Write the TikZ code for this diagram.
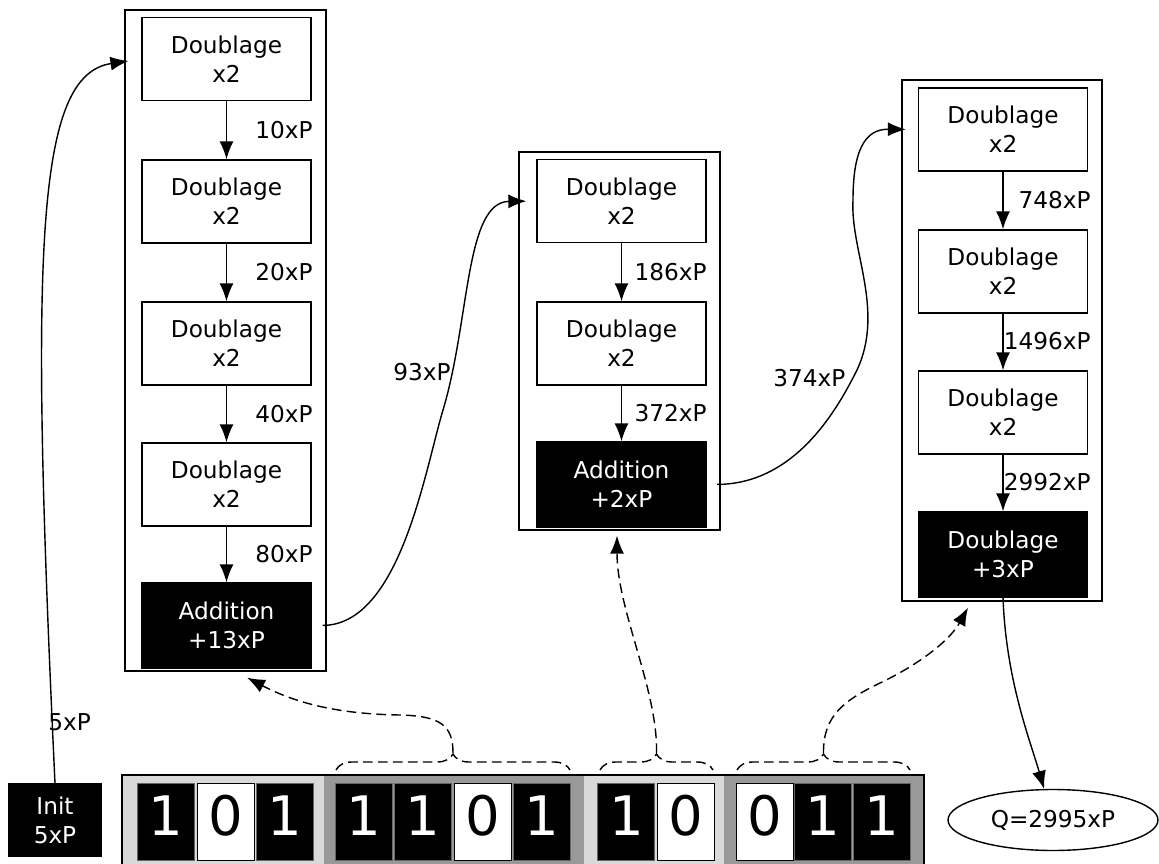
\documentclass[tikz,border=0pt]{standalone}
\usepackage{fontspec}
\setmainfont{DejaVu Sans}
\usepackage{tikz}
\usetikzlibrary{arrows.meta,shapes.geometric,decorations.pathreplacing}
\definecolor{grisclair}{HTML}{D9D9D9}
\definecolor{grisfonce}{HTML}{999999}
\newcommand{\etiq}{\fontsize{13.2}{16.5}\selectfont}
\newcommand{\gros}{\fontsize{31}{31}\selectfont}
\tikzset{
  dbl/.style={rectangle, draw, line width=0.8pt, fill=white, align=center, font=\etiq,
              minimum width=3.38cm, minimum height=1.66cm, inner sep=0pt},
  ajout/.style={dbl, fill=black, text=white, minimum height=1.7cm},
  colonne/.style={rectangle, draw, line width=0.8pt, inner sep=0pt},
  valeur/.style={font=\etiq, inner sep=0pt},
  bitun/.style={rectangle, draw=black!60, line width=0.5pt, fill=black, text=white, font=\gros,
                minimum width=1.14cm, minimum height=1.54cm, inner sep=0pt, text depth=0.24cm},
  bitzero/.style={bitun, draw=black, fill=white, text=black},
  arr/.style={-{Latex[length=3.6mm,width=2.8mm]}, line width=0.8pt},
  darr/.style={arr, dash pattern=on 5.5pt off 3pt},
  accol/.style={decorate, decoration={brace,amplitude=0.32cm}, line width=0.8pt,
                dash pattern=on 5.5pt off 3pt},
}

\begin{document}
\begin{tikzpicture}[x=0.02cm, y=-0.02cm]
    \useasboundingbox (0,0) rectangle (1159,864);
    % les trois colonnes
    \node[colonne, minimum width=4.02cm, minimum height=13.22cm] (col1) at (225.5,340.5) {};
    \node[colonne, minimum width=4.02cm, minimum height=7.56cm]  (col2) at (619.5,341) {};
    \node[colonne, minimum width=4cm, minimum height=10.42cm]    (col3) at (1002,340.5) {};
    % colonne 1
    \node[dbl]   (d11) at (226.5,59)    {Doublage\\x2};
    \node[dbl]   (d12) at (226.5,201.5) {Doublage\\x2};
    \node[dbl]   (d13) at (226.5,343.5) {Doublage\\x2};
    \node[dbl]   (d14) at (226.5,484.5) {Doublage\\x2};
    \node[ajout] (a1)  at (226.5,625.5) {Addition\\+13xP};
    \draw[arr] (d11) -- (d12);
    \draw[arr] (d12) -- (d13);
    \draw[arr] (d13) -- (d14);
    \draw[arr] (d14) -- (a1);
    \node[valeur, anchor=east] (v10) at (313,130) {10xP};
    \node[valeur, anchor=east] (v20) at (313,272) {20xP};
    \node[valeur, anchor=east] (v40) at (313,414) {40xP};
    \node[valeur, anchor=east] (v80) at (313,554) {80xP};
    % colonne 2
    \node[dbl]   (d21) at (621.5,201)   {Doublage\\x2};
    \node[dbl]   (d22) at (621.5,343.5) {Doublage\\x2};
    \node[ajout] (a2)  at (621.5,484.5) {Addition\\+2xP};
    \draw[arr] (d21) -- (d22);
    \draw[arr] (d22) -- (a2);
    \node[valeur, anchor=east] (v186) at (707,272) {186xP};
    \node[valeur, anchor=east] (v372) at (707,413) {372xP};
    % colonne 3
    \node[dbl]   (d31) at (1003,129.5) {Doublage\\x2};
    \node[dbl]   (d32) at (1003,271.5) {Doublage\\x2};
    \node[dbl]   (d33) at (1003,412.5) {Doublage\\x2};
    \node[ajout] (a3)  at (1003,554.5) {Doublage\\+3xP};
    \draw[arr] (d31) -- (d32);
    \draw[arr] (d32) -- (d33);
    \draw[arr] (d33) -- (a3);
    \node[valeur, anchor=east] (v748)  at (1091,200) {748xP};
    \node[valeur, anchor=east] (v1496) at (1091,341) {1496xP};
    \node[valeur, anchor=east] (v2992) at (1091,482) {2992xP};
    % depart et resultat
    \node[ajout, minimum width=1.84cm, minimum height=1.44cm] (init) at (55,820) {Init\\5xP};
    \node[ellipse, draw, line width=0.8pt, minimum width=4.2cm, minimum height=1.22cm,
          font=\etiq, inner sep=0pt] (q) at (1053,820) {Q=2995xP};
    \node[valeur, anchor=west] (v5)   at (48,722)  {5xP};
    \node[valeur, anchor=west] (v93)  at (393,372) {93xP};
    \node[valeur, anchor=west] (v374) at (773,378) {374xP};
    \draw[arr, shorten >=0.26cm] (init.north) .. controls (30,250) and (35,75) .. (d11.west);
    \draw[arr, shorten <=0.22cm, shorten >=0.2cm] (a1.east) .. controls (400,625) and (425,470) .. (443,410)
        .. controls (470,320) and (465,202) .. (d21.west);
    \draw[arr, shorten <=0.21cm, shorten >=0.24cm] (a2.east) .. controls (795,484) and (837,410) .. (857,370)
        .. controls (885,310) and (850,250) .. (853,200) .. controls (853,150) and (865,129) .. (d31.west);
    \draw[arr] (a3.south) .. controls (1006,680) and (1030,740) .. (q);
    % le multiplicande en binaire
    \fill[grisclair] (122,775) rectangle (324,870);
    \fill[grisfonce] (324,775) rectangle (584,870);
    \fill[grisclair] (584,775) rectangle (724,870);
    \fill[grisfonce] (724,775) rectangle (924,870);
    \draw[line width=0.8pt] (122,775) rectangle (924,870);
    \node[bitun]   (b1)  at (165.8,821.5) {1};
    \node[bitzero] (b2)  at (225.7,821.5) {0};
    \node[bitun]   (b3)  at (285.2,821.5) {1};
    \node[bitun]   (b4)  at (364,821.5)   {1};
    \node[bitun]   (b5)  at (423,821.5)   {1};
    \node[bitzero] (b6)  at (482.8,821.5) {0};
    \node[bitun]   (b7)  at (541.8,821.5) {1};
    \node[bitun]   (b8)  at (626.4,821.5) {1};
    \node[bitzero] (b9)  at (685.5,821.5) {0};
    \node[bitzero] (b10) at (765,821.5)   {0};
    \node[bitun]   (b11) at (823,821.5)   {1};
    \node[bitun]   (b12) at (882,821.5)   {1};
    % accolades et renvois
    \draw[accol] (336,770) -- (570,770);
    \draw[accol] (600,770) -- (713,770);
    \draw[accol] (737,770) -- (910,770);
    \coordinate (p1) at (453,753);
    \coordinate (p2) at (656.5,753);
    \coordinate (p3) at (823.5,753);
    \draw[darr] (p1) .. controls (453,725) and (440,716) .. (400,715)
        .. controls (330,714) and (290,700) .. ([xshift=0.43cm,yshift=-0.12cm]col1.south);
    \draw[darr] (p2) .. controls (658,690) and (617,610) .. ([xshift=-0.05cm,yshift=-0.1cm]col2.south);
    \draw[darr] (p3) .. controls (823,715) and (845,700) .. (880,683)
        .. controls (920,664) and (950,640) .. ([xshift=-0.68cm,yshift=-0.12cm]col3.south);
  \end{tikzpicture}
\end{document}
